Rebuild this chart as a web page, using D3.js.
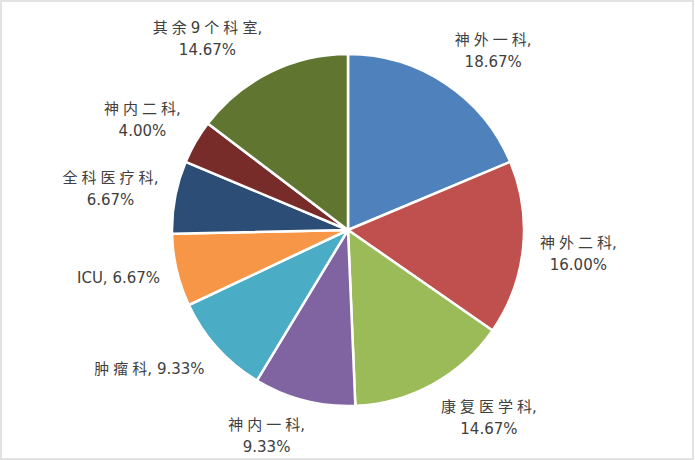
<!DOCTYPE html>
<html><head><meta charset="utf-8">
<script src="https://cdn.jsdelivr.net/npm/d3@7"></script>
<style>
html,body{margin:0;padding:0;background:#fff;}
svg{display:block;}
</style></head>
<body>
<svg id="chart" width="695" height="460"></svg>
<script>
const categories = ["神外一科","神外二科","康复医学科","神内一科","肿瘤科","ICU","全科医疗科","神内二科","其余9个科室"];
const values = [18.67, 16.00, 14.67, 9.33, 9.33, 6.67, 6.67, 4.00, 14.67];
const colors = ["#4F81BD","#C0504D","#9BBB59","#8064A2","#4BACC6","#F79646","#2C4D75","#772C2A","#5F7530"];

const W = 695, H = 460;
const cx = 348, cy = 230, r = 176;
const svg = d3.select("#chart");

svg.append("rect").attr("x",1).attr("y",1).attr("width",692).attr("height",458)
  .attr("fill","#fff").attr("stroke","#d9d9d9").attr("stroke-width",1.5);

const data = categories.map((c,i)=>({cat:c, val:values[i], color:colors[i]}));
const pie = d3.pie().value(d=>d.val).sort(null);
const arcs = pie(data);
const arc = d3.arc().innerRadius(0).outerRadius(r);

const g = svg.append("g").attr("transform",`translate(${cx},${cy})`);
g.selectAll("path").data(arcs).join("path")
  .attr("d",arc).attr("fill",d=>d.data.color)
  .attr("stroke","#fff").attr("stroke-width",2.5).attr("stroke-linejoin","round");

// labels
const fs = 15, lh = 22, gap = 17, cjkSpace = 4;
const isCJK = ch => /[\u3000-\u9fff\uff00-\uffef]/.test(ch);
const clamp = v=>Math.max(-1,Math.min(1,v));
const lg = svg.append("g");
arcs.forEach(a=>{
  const pct = d3.format(".2f")(a.data.val)+"%";
  const lines = Array.from(a.data.cat).length<=3 ? [a.data.cat+", "+pct] : [a.data.cat+",", pct];
  const t = lg.append("text").attr("fill","#404040").attr("font-size",fs)
    .attr("font-family","'DejaVu Sans', sans-serif").attr("text-anchor","middle");
  const tsLines = lines.map(l=>{
    const tl = t.append("tspan");
    const chars = Array.from(l);
    const spaced = chars.some(isCJK);
    chars.forEach((ch,k)=>{
      const s = tl.append("tspan").text(ch);
      if(isCJK(ch)) s.attr("font-family","'Noto Sans CJK SC'");
      const next = chars[k+1];
      if(spaced && next && next!=="," && isCJK(ch) || spaced && next && isCJK(next) && ch!=="," ) s.attr("letter-spacing",cjkSpace);
    });
    return tl;
  });
  let maxw = 0;
  tsLines.forEach(tl=>{ maxw = Math.max(maxw, tl.node().getComputedTextLength()); });
  const ang = (a.startAngle+a.endAngle)/2;
  const ux = Math.sin(ang), uy = -Math.cos(ang);
  const R = r + gap;
  const px = R*ux, py = R*uy;
  const ah = maxw/2, bh = lines.length*lh/2;
  const bx = cx + px + ah*clamp(ux*3.5);
  const by = cy + py + bh*0.85*clamp(uy*1.5);
  tsLines.forEach((tl,i)=>{
    const ly = by - bh + lh/2 + i*lh;
    tl.attr("x",bx).attr("y",ly + fs*0.36);
  });
});
</script>
</body></html>
